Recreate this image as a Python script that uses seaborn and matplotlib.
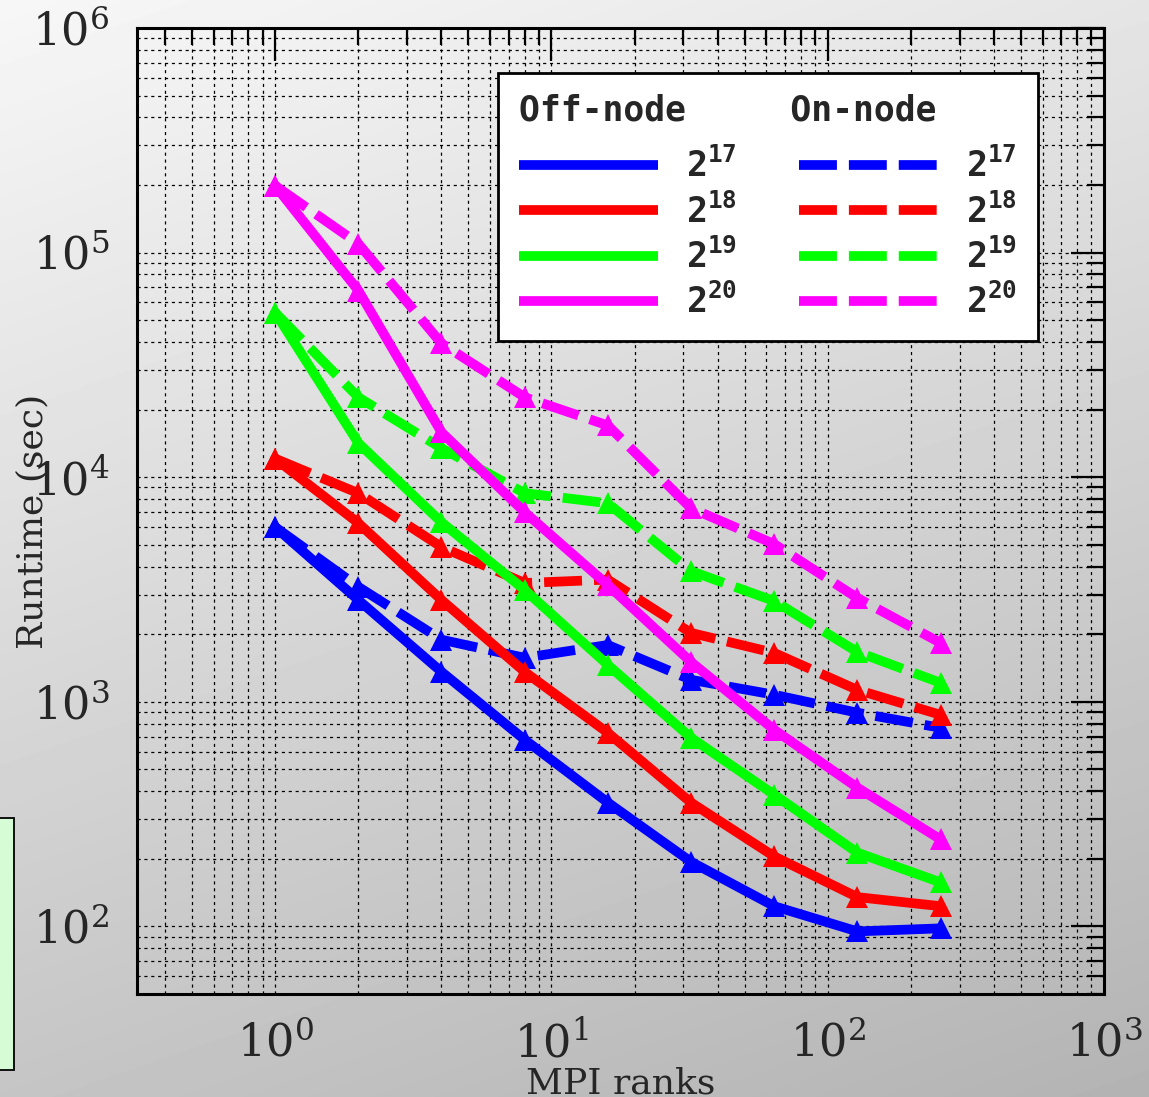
import numpy as np
import pandas as pd
import matplotlib
matplotlib.use("Agg")
import matplotlib.pyplot as plt
import seaborn as sns
from matplotlib.lines import Line2D
from matplotlib.patches import Rectangle
from matplotlib.ticker import LogLocator, NullFormatter

# ---------------- data ----------------
ranks = [1, 2, 4, 8, 16, 32, 64, 128, 256]
sizes = ["$2^{17}$", "$2^{18}$", "$2^{19}$", "$2^{20}$"]
modes = ["Off-node", "On-node"]
colors = ["#0000ff", "#ff0000", "#00ff00", "#ff00ff"]

off_17 = [6000, 2840, 1360, 678, 356, 194, 123, 95, 98]
off_18 = [12100, 6250, 2840, 1360, 728, 356, 205, 135, 123]
off_19 = [54100, 14200, 6300, 3150, 1460, 692, 386, 213, 157]
off_20 = [198600, 67800, 15850, 6990, 3310, 1505, 751, 415, 244]
on_17 = [6000, 3250, 1890, 1570, 1790, 1253, 1075, 894, 766]
on_18 = [12100, 8490, 4890, 3380, 3500, 2027, 1651, 1130, 875]
on_19 = [54100, 22700, 13450, 8490, 7660, 3820, 2810, 1667, 1215]
on_20 = [198600, 109600, 39400, 22700, 17000, 7280, 5040, 2900, 1830]

x_label = "MPI ranks"
y_label = "Runtime (sec)"

series = {
    ("Off-node", sizes[0]): off_17,
    ("Off-node", sizes[1]): off_18,
    ("Off-node", sizes[2]): off_19,
    ("Off-node", sizes[3]): off_20,
    ("On-node", sizes[0]): on_17,
    ("On-node", sizes[1]): on_18,
    ("On-node", sizes[2]): on_19,
    ("On-node", sizes[3]): on_20,
}
rows = []
for (mode, size), vals in series.items():
    for r, v in zip(ranks, vals):
        rows.append({"ranks": r, "runtime": v, "size": size, "mode": mode})
df = pd.DataFrame(rows)

# ---------------- style ----------------
sns.set_style("white")
plt.rcParams["font.family"] = ["DejaVu Serif"]
plt.rcParams["mathtext.fontset"] = "cm"
plt.rcParams["mathtext.rm"] = "DejaVu Sans Mono:bold"
plt.rcParams["mathtext.it"] = "DejaVu Sans Mono:bold"
plt.rcParams["mathtext.bf"] = "DejaVu Sans Mono:bold"

W, H = 1149, 1097
fig = plt.figure(figsize=(W / 100, H / 100), dpi=100)

# gradient background
bg = fig.add_axes([0, 0, 1, 1], zorder=-10)
yy, xx = np.mgrid[0:H, 0:W]
grad = (247 - 50 * (yy / H) - 18 * (xx / W)) / 255.0
bg.imshow(grad, cmap="gray", vmin=0, vmax=1, aspect="auto",
          extent=[0, 1, 0, 1], origin="upper", interpolation="bilinear")
bg.axis("off")

# partial light-green box at left
fig.add_artist(Rectangle((-10 / W, 1 - 1070 / H), 24 / W, (1070 - 818) / H,
                         transform=fig.transFigure, facecolor="#d6fcd6",
                         edgecolor="black", linewidth=1.3, zorder=1))

L, R, T, B = 137, 1104, 28, 994
ax = fig.add_axes([L / W, 1 - B / H, (R - L) / W, (B - T) / H])
ax.set_zorder(1)
ax.patch.set_alpha(0)

lw = 7
dash = (3.9, 1.23)
sns.lineplot(data=df, x="ranks", y="runtime", hue="size", style="mode",
             hue_order=sizes, style_order=modes, palette=colors,
             dashes={"Off-node": "", "On-node": dash},
             markers={"Off-node": "^", "On-node": "^"},
             markersize=16, markeredgewidth=0, linewidth=lw,
             errorbar=None, legend=False, ax=ax)

ax.set_xscale("log")
ax.set_yscale("log")
ax.set_xlim(10 ** -0.5, 1000)
ax.set_ylim(50, 1e6)

for axis in (ax.xaxis, ax.yaxis):
    axis.set_major_locator(LogLocator(base=10, numticks=20))
    axis.set_minor_locator(LogLocator(base=10, subs=np.arange(2, 10), numticks=100))
    axis.set_minor_formatter(NullFormatter())

ax.grid(True, which="both", color="black", linestyle=(0, (2.5, 3)), linewidth=0.9)
ax.set_axisbelow(True)
ax.tick_params(which="both", direction="in", top=True, right=True, color="black")
ax.tick_params(which="major", length=24, width=1.6, labelsize=32, pad=20)
ax.tick_params(which="minor", length=12, width=1.6)
for s in ax.spines.values():
    s.set_linewidth(2.2)
    s.set_color("black")

ax.set_xlabel(x_label, fontsize=26, family="DejaVu Serif")
ax.set_ylabel(y_label, fontsize=26, family="DejaVu Serif")
ax.xaxis.set_label_coords(0.5, (B - 1094) / (B - T))
ax.xaxis.label.set_va("baseline")
ax.yaxis.set_label_coords((32 - L) / (R - L), (B - 521) / (B - T))
ax.yaxis.label.set_va("center")

# legend
handles = []
labels = []
for mode in modes:
    for size, c in zip(sizes, colors):
        if mode == "Off-node":
            h = Line2D([], [], color=c, lw=lw, solid_capstyle="butt")
        else:
            h = Line2D([], [], color=c, lw=lw, dashes=dash, dash_capstyle="butt")
        handles.append(h)
        labels.append(size)

leg = ax.legend(handles, labels, ncol=2, loc="upper left",
                bbox_to_anchor=((498 - L) / (R - L), (B - 73) / (B - T)),
                borderaxespad=0, fontsize=25, handlelength=4.0,
                handletextpad=0.8, columnspacing=1.8, labelspacing=0.263,
                borderpad=0.6, frameon=True, fancybox=False, framealpha=1,
                edgecolor="black", facecolor="white",
                title="Off-node     On-node", alignment="left",
                title_fontproperties={"family": "DejaVu Sans Mono",
                                      "weight": "bold", "size": 25})
leg.get_frame().set_linewidth(2)
leg._legend_box.sep = 14.5
for t in leg.get_texts():
    t.set_math_fontfamily("custom")

fig.savefig("out.png", dpi=100)
